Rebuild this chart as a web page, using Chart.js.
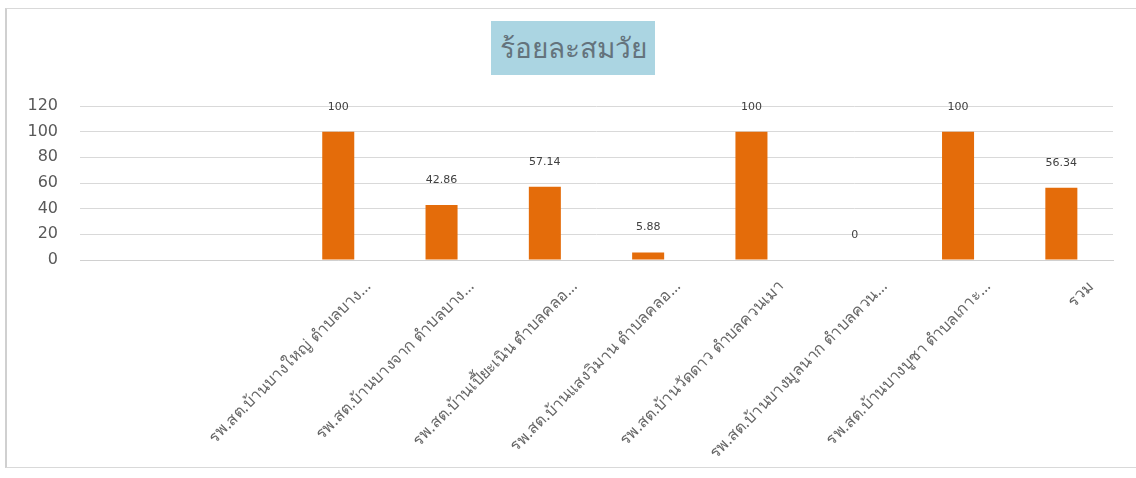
<!DOCTYPE html>
<html>
<head>
<meta charset="utf-8">
<script src="https://cdn.jsdelivr.net/npm/chart.js@4"></script>
<style>
    html, body { margin: 0; padding: 0; background: #fff; }
    #wrap { position: relative; width: 1136px; height: 478px; }
    #frame { position: absolute; left: 5px; top: 8px; width: 1140px; height: 460px; border: 1px solid #d9d9d9; border-left: 2px solid #d0d0d0; box-sizing: border-box; }
    #title { position: absolute; left: 491px; top: 21px; width: 164px; height: 54px; background: #abd5e2;
             color: #64737c; font: 300 28px "Noto Sans", "DejaVu Sans", sans-serif; text-align: center; line-height: 52px; }
    canvas { position: absolute; left: 0; top: 0; }
</style>
</head>
<body>
<div id="wrap">
    <div id="frame"></div>
    <canvas id="chart" width="1136" height="478"></canvas>
    <div id="title">ร้อยละสมวัย</div>
</div>
<script>
// ข้อมูล
const categories = [
    '', '',
    'รพ.สต.บ้านบางใหญ่ ตำบลบาง...',
    'รพ.สต.บ้านบางจาก ตำบลบาง...',
    'รพ.สต.บ้านเปี้ยะเนิน ตำบลคลอ...',
    'รพ.สต.บ้านแสงวิมาน ตำบลคลอ...',
    'รพ.สต.บ้านวัดดาว ตำบลควนเมา',
    'รพ.สต.บ้านบางมูลนาก ตำบลควน...',
    'รพ.สต.บ้านบางบูชา ตำบลเกาะ...',
    'รวม'
];
const values = [null, null, 100, 42.86, 57.14, 5.88, 100, 0, 100, 56.34];
const yTicks = [0, 20, 40, 60, 80, 100, 120];

// ป้ายค่าเหนือแท่ง
const valueLabels = {
    id: 'valueLabels',
    afterDatasetsDraw(chart) {
        const ctx = chart.ctx;
        const meta = chart.getDatasetMeta(0);
        ctx.save();
        ctx.font = '11px "DejaVu Sans", sans-serif';
        ctx.fillStyle = '#404040';
        ctx.textAlign = 'center';
        ctx.textBaseline = 'middle';
        meta.data.forEach((bar, i) => {
            if (values[i] === null) return;
            ctx.fillText(String(values[i]), bar.x, bar.y - 25);
        });
        ctx.restore();
    }
};

new Chart(document.getElementById('chart'), {
    type: 'bar',
    data: {
        labels: categories,
        datasets: [{
            data: values,
            backgroundColor: '#e46c0a',
            categoryPercentage: 1,
            barPercentage: 0.31
        }]
    },
    options: {
        responsive: false,
        animation: false,
        layout: { padding: { top: 106, right: 23, left: 0, bottom: 0 } },
        plugins: { legend: { display: false }, tooltip: { enabled: false } },
        scales: {
            y: {
                min: 0, max: 120,
                afterBuildTicks: s => { s.ticks = yTicks.map(v => ({ value: v })); },
                afterFit: s => { s.width = 80; },
                border: { display: false },
                grid: { color: '#d9d9d9', drawTicks: false },
                ticks: { color: '#595959', padding: 22, font: { size: 16, family: '"DejaVu Sans", sans-serif' } }
            },
            x: {
                afterFit: s => { s.height = 218; },
                border: { color: '#d0d0d0' },
                grid: { display: false },
                ticks: {
                    color: '#666666', minRotation: 45, maxRotation: 45, autoSkip: false, padding: 9, labelOffset: 30,
                    font: { size: 16, family: '"Noto Sans", "DejaVu Sans", sans-serif' }
                }
            }
        }
    },
    plugins: [valueLabels]
});
</script>
</body>
</html>
